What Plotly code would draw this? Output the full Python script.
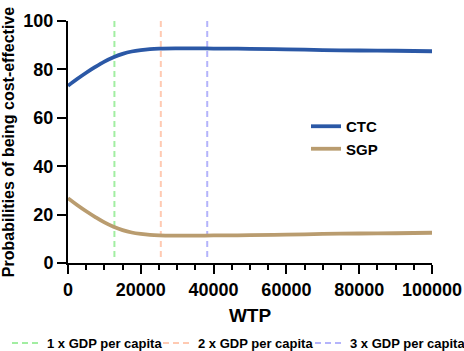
import plotly.graph_objects as go

wtp = [0, 2500, 5000, 7500, 10000, 12500, 15000, 17500, 20000, 22500, 25000,
       30000, 35000, 40000, 45000, 50000, 60000, 70000, 80000, 90000, 100000]
ctc = [73.2, 76.0, 78.6, 81.0, 83.2, 85.0, 86.4, 87.4, 88.0, 88.4, 88.6,
       88.7, 88.7, 88.6, 88.6, 88.5, 88.3, 88.0, 87.8, 87.7, 87.5]
sgp = [26.8, 24.0, 21.4, 19.0, 16.8, 15.0, 13.6, 12.6, 12.0, 11.6, 11.4,
       11.3, 11.3, 11.4, 11.4, 11.5, 11.7, 12.0, 12.2, 12.3, 12.5]

gdp_labels = ["1 x GDP per capita", "2 x GDP per capita", "3 x GDP per capita"]
gdp_values = [12750, 25500, 38250]
gdp_span = [2.5, 100]
gdp_colors = ["#a2eea2", "#ffcab2", "#b4b4fb"]

x_range = [0, 100000]
x_major = 20000
x_minor = 5000
y_range = [0, 100]
y_major = 20

FONT = "Liberation Sans, Arial, sans-serif"
W, H = 464, 351
L, R, T, B = 68, 32, 21, 88
PW, PH = W - L - R, H - T - B


def px_x(px):
    return (px - L) / PW


def px_y(py):
    return (H - B - py) / PH


fig = go.Figure()

legend_names = ["legend2", "legend3", "legend4"]
for lab, v, c, lg in zip(gdp_labels, gdp_values, gdp_colors, legend_names):
    fig.add_trace(go.Scatter(
        x=[v, v], y=gdp_span, mode="lines", name=lab,
        line=dict(color=c, width=2, dash="6px,4px"),
        legend=lg, hoverinfo="skip",
    ))

fig.add_trace(go.Scatter(x=wtp, y=ctc, mode="lines", name="CTC",
                         line=dict(color="#2b58a6", width=3.8, shape="spline"),
                         cliponaxis=False, legend="legend"))
fig.add_trace(go.Scatter(x=wtp, y=sgp, mode="lines", name="SGP",
                         line=dict(color="#b99c6f", width=3.8, shape="spline"),
                         cliponaxis=False, legend="legend"))

leg_font = dict(family=FONT, size=13, color="black", weight="bold")
bottom_x = [7, 158, 310]
legends = {}
for lg, bx in zip(legend_names, bottom_x):
    legends[lg] = dict(x=px_x(bx), y=px_y(343), xanchor="left",
                       yanchor="middle", font=leg_font,
                       bgcolor="rgba(0,0,0,0)", itemwidth=30)

fig.update_layout(
    width=W, height=H,
    margin=dict(l=L, r=R, t=T, b=B, pad=0, autoexpand=False),
    paper_bgcolor="white", plot_bgcolor="white",
    font=dict(family=FONT, color="black"),
    showlegend=True,
    legend=dict(x=px_x(306), y=px_y(110), xanchor="left", yanchor="top",
                font=dict(family=FONT, size=15, color="black", weight="bold"),
                bgcolor="rgba(0,0,0,0)", tracegroupgap=0),
    **legends,
    xaxis=dict(
        range=x_range, tickmode="linear", tick0=0, dtick=x_major,
        tickformat="d",
        showgrid=False, zeroline=False, showline=True, linecolor="black",
        linewidth=2, ticks="outside", ticklen=9, tickwidth=2, tickcolor="black",
        tickfont=dict(family=FONT, size=18, color="black", weight="bold"),
        minor=dict(dtick=x_minor, ticks="outside", ticklen=5,
                   tickwidth=2, tickcolor="black", showgrid=False),
        title=dict(text="WTP", font=dict(family=FONT, size=19, color="black",
                                          weight="bold"), standoff=10),
        automargin=False, fixedrange=True,
    ),
    yaxis=dict(
        range=y_range, tickmode="linear", tick0=0, dtick=y_major,
        tickformat="d",
        showgrid=False, zeroline=False, showline=True, linecolor="black",
        linewidth=2, ticks="outside", ticklen=9, tickwidth=2, tickcolor="black",
        tickfont=dict(family=FONT, size=18, color="black", weight="bold"),
        title=dict(text="Probabilities of being cost-effective",
                   font=dict(family=FONT, size=16, color="black", weight="bold"),
                   standoff=6),
        automargin=False, fixedrange=True,
    ),
)

fig.write_html("out.html",
               config={"displayModeBar": False},
               post_script="document.body.style.margin='0';"
                           "document.body.style.overflow='hidden';")
